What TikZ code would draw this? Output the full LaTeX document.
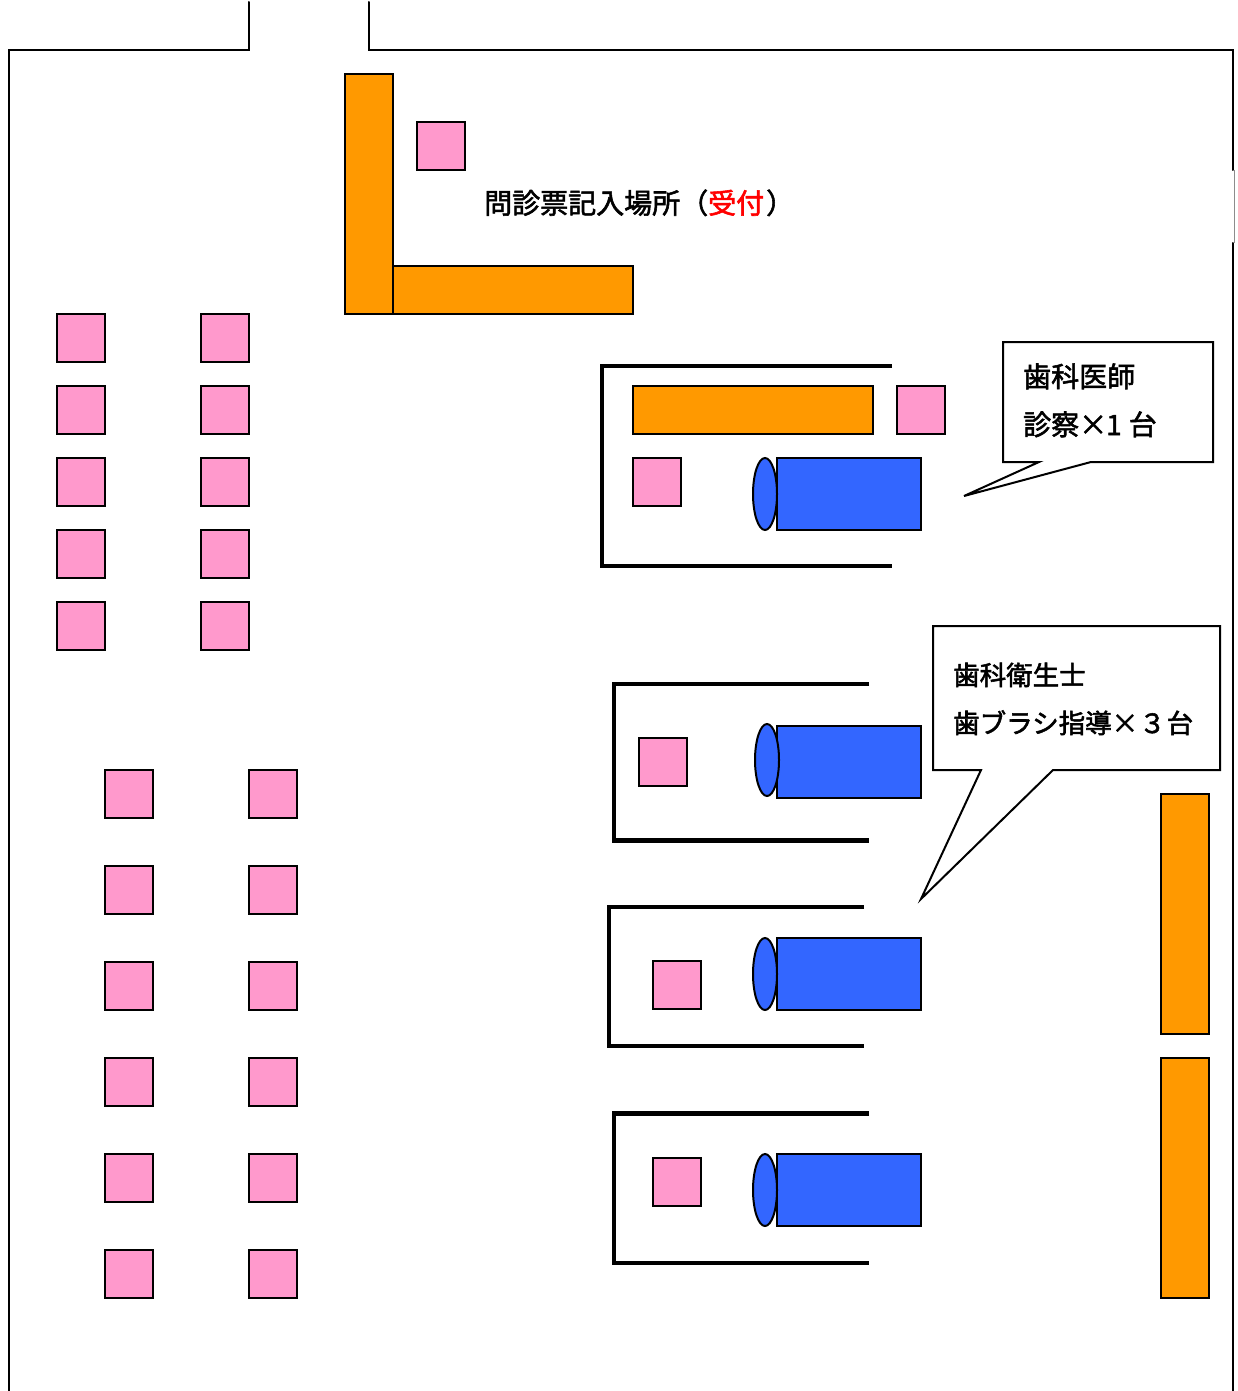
\documentclass[tikz,border=0pt]{standalone}
\usepackage{fontspec}
\setmainfont[FakeBold=2]{Noto Sans CJK JP}
\definecolor{chair}{HTML}{FF99CC}
\definecolor{desk}{HTML}{FF9900}
\definecolor{bed}{HTML}{3366FF}
\tikzset{
  wall/.style={draw=black,line width=2pt,line cap=round},
  room/.style={draw=black,line width=4.4pt,line join=miter},
  chairbox/.style={draw=black,line width=2pt,fill=chair},
  deskbox/.style={draw=black,line width=2pt,fill=desk},
  bedbox/.style={draw=black,line width=2pt,fill=bed},
  callout/.style={draw=black,line width=2pt,fill=white,line join=miter},
  label/.style={inner sep=0pt,anchor=base west,font=\fontsize{28pt}{28pt}\selectfont},
  labelsmall/.style={label,font=\fontsize{26.5pt}{28pt}\selectfont},
}
\newcommand{\chairat}[2]{\path[chairbox] (#1,#2) rectangle ++(48,48);}
\begin{document}
\begin{tikzpicture}[x=1pt,y=-1pt]
\useasboundingbox (0,0) rectangle (1238,1391);
% walls
\draw[wall] (249,2) -- (249,50) -- (9,50) -- (9,1391);
\draw[wall] (369,2) -- (369,50) -- (1233,50) -- (1233,170);
\draw[draw=black!45,line width=1pt] (1234.5,170) -- (1234.5,243);
\draw[wall] (1233,243) -- (1233,1391);
% reception
\path[deskbox] (345,74) rectangle (393,314);
\path[deskbox] (393,266) rectangle (633,314);
\chairat{417}{122}
\node[label] (reception) at (484,213.5) {問診票記入場所（{\color{red}受付}\hspace{2pt}）};
% waiting chairs, upper block
\foreach \x in {57,201} \foreach \y in {314,386,458,530,602} {\chairat{\x}{\y}}
% waiting chairs, lower block
\foreach \x in {105,249} \foreach \y in {770,866,962,1058,1154,1250} {\chairat{\x}{\y}}
% rooms
\draw[room] (892,366) -- (602,366) -- (602,566) -- (892,566);
\draw[room] (869,684) -- (614,684) -- (614,840.5) -- (869,840.5);
\draw[room] (864,907) -- (609,907) -- (609,1046) -- (864,1046);
\draw[room] (869,1113.5) -- (614,1113.5) -- (614,1263) -- (869,1263);
% room furniture
\path[deskbox] (633,386) rectangle (873,434);
\chairat{897}{386}
\chairat{633}{458}
\chairat{639}{738}
\chairat{653}{961}
\chairat{653}{1158}
\path[bedbox] (777,458) rectangle (921,530);
\path[bedbox] (777,726) rectangle (921,798);
\path[bedbox] (777,938) rectangle (921,1010);
\path[bedbox] (777,1154) rectangle (921,1226);
\path[bedbox] (765,494) ellipse [x radius=12,y radius=36];
\path[bedbox] (767,760) ellipse [x radius=12,y radius=36];
\path[bedbox] (765,974) ellipse [x radius=12,y radius=36];
\path[bedbox] (765,1190) ellipse [x radius=12,y radius=36];
% side desks
\path[deskbox] (1161,794) rectangle (1209,1034);
\path[deskbox] (1161,1058) rectangle (1209,1298);
% callouts
\path[callout] (1003,342) -- (1213,342) -- (1213,462) -- (1091,462) -- (964,496) -- (1039,462) -- (1003,462) -- cycle;
\node[label] (dentist) at (1023,387) {歯科医師};
\node[label] (dentistb) at (1023,435) {診察×\hspace{-1pt}1\hspace{7pt}台};
\path[callout] (933,626) -- (1220,626) -- (1220,770) -- (1053,770) -- (921,899) -- (981,770) -- (933,770) -- cycle;
\node[labelsmall] (hygienist) at (953,685) {歯科衛生士};
\node[labelsmall] (hygienistb) at (953,733) {歯ブラシ指導×\hspace{1pt}３\hspace{1pt}台};
\end{tikzpicture}
\end{document}
